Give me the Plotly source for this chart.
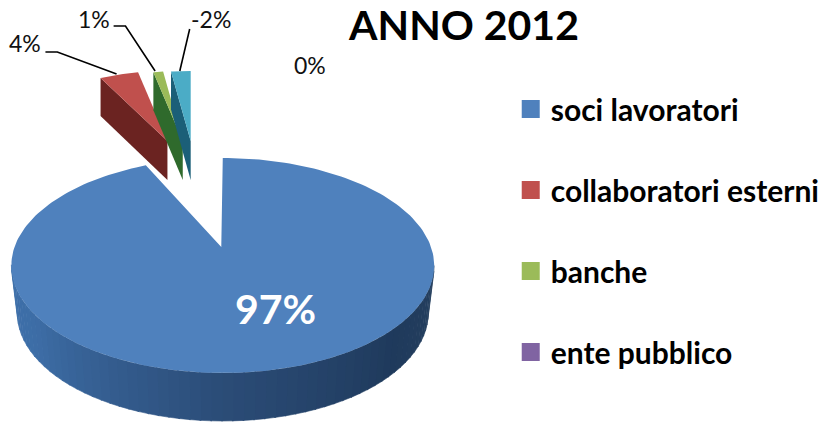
import numpy as np
import plotly.graph_objects as go

# ---- data ----
categories = ["soci lavoratori", "collaboratori esterni", "banche", "ente pubblico", "altro"]
values = [97, 4, 1, 0, -2]
title_text = "ANNO 2012"

# ---- styles ----
top_colors = ["#4F81BD", "#C0504D", "#9BBB59", "#8064A2", "#4BACC6"]
wall_colors = ["#2B4C77", "#6B2321", "#2F6A2C", "#4A3468", "#1B5F78"]
FONT = "Lato"

# ---- pseudo-3D projection, in pixels of the 825x423 page ----
CX, CY, RX, RY = 225.5, 265.5, 214.0, 107.5   # top ellipse
BRX, BRY, BCY = 208.0, 108.0, 313.0           # bottom ellipse
APEX = (224.0, 247.0)
PERSPECTIVE = 1.0086                          # angle stretch of the near slice
EX_RX, EX_RY, EX_CY, EX_APEX_Y, EX_DEPTH = 165.0, 80.0, 151.0, 141.0, 38.0
EX_CX = {1: 169.5, 2: 185.0, 4: 193.0}        # exploded slice centres

sizes = np.abs(np.array(values, dtype=float))
edges = np.concatenate([[0.0], np.cumsum(sizes) / sizes.sum() * 360.0])


def hex2rgb(h):
    return np.array([int(h[i:i + 2], 16) for i in (1, 3, 5)], dtype=float)


def shade(t):
    # t = 0 at the right end of the wall, t = 1 at its left end
    stops_t = [0.0, 0.2, 0.5, 0.85, 1.0]
    stops_c = ["#26405F", "#1F3A5C", "#2B4C77", "#3D6DA6", "#3E70AA"]
    c = [np.interp(t, stops_t, [hex2rgb(s)[k] for s in stops_c]) for k in range(3)]
    return "rgb(%d,%d,%d)" % tuple(int(round(v)) for v in c)


fig = go.Figure()


def poly(xs, ys, color, name="", width=0.0):
    fig.add_trace(go.Scatter(
        x=list(xs), y=list(ys), mode="lines", fill="toself", fillcolor=color,
        line=dict(color=color, width=width), showlegend=False,
        hoverinfo="text", text=name,
    ))


# blue wall, in shaded strips along the visible front
wall_edges = np.linspace(90.0, 270.0, 61)
for a0, a1 in zip(wall_edges[:-1], wall_edges[1:]):
    th = np.radians(np.linspace(a0, a1 + 0.4, 4))
    xt = CX + RX * np.sin(th)
    yt = CY - RY * np.cos(th)
    xb = CX + BRX * np.sin(th[::-1])
    yb = BCY - BRY * np.cos(th[::-1])
    poly(np.r_[xt, xb], np.r_[yt, yb], shade((a0 + a1 - 180.0) / 360.0), categories[0], 0.6)

# blue top face, from its value
th = np.radians(np.linspace(edges[0], edges[1] * PERSPECTIVE, 240))
poly(np.r_[APEX[0], CX + RX * np.sin(th), APEX[0]],
     np.r_[APEX[1], CY - RY * np.cos(th), APEX[1]],
     top_colors[0], categories[0])

# exploded slices, from their values
for i in (1, 2, 4):
    th = np.radians(np.linspace(edges[i], edges[i + 1], 24))
    cx = EX_CX[i]
    ax = cx + EX_RX * np.sin(th)
    ay = EX_CY - EX_RY * np.cos(th)
    poly([ax[0], ax[0], cx, cx, ax[0]],
         [ay[0], ay[0] + EX_DEPTH, EX_APEX_Y + EX_DEPTH + 1, EX_APEX_Y, ay[0]],
         wall_colors[i], categories[i])
    poly(np.r_[cx, ax, cx], np.r_[EX_APEX_Y, ay, EX_APEX_Y], top_colors[i], categories[i])

# leader lines
for lx, ly in [([118, 58, 46], [74, 52, 52]),
               ([157, 127, 115], [71, 26, 26]),
               ([182, 192], [71, 29])]:
    fig.add_trace(go.Scatter(x=lx, y=ly, mode="lines", showlegend=False, hoverinfo="skip",
                             line=dict(color="#000000", width=1.6)))

# legend entries
for name, color in zip(categories[:4], top_colors[:4]):
    fig.add_trace(go.Scatter(
        x=[None], y=[None], mode="markers", name=name, legendgroup=name,
        marker=dict(symbol="square", size=16, color=color, line=dict(color=color, width=2)),
    ))

# value labels
label_pos = [(279, 308), (25, 43), (95, 19), (314, 65), (214, 19)]
for i, (v, (lx, ly)) in enumerate(zip(values, label_pos)):
    big = i == 0
    fig.add_annotation(
        x=lx, y=ly, xref="x", yref="y", text=f"{v}%", showarrow=False,
        font=dict(family=FONT, size=41 if big else 23,
                  color="#FFFFFF" if big else "#111111",
                  weight="bold" if big else "normal"),
    )

fig.update_layout(
    width=825, height=423, autosize=False,
    margin=dict(l=0, r=0, t=0, b=0),
    paper_bgcolor="#FFFFFF", plot_bgcolor="#FFFFFF",
    title=dict(text=title_text, x=464 / 825, xanchor="center", y=1 - 26 / 423, yanchor="middle",
               yref="container",
               font=dict(family=FONT, size=41, color="#000000", weight="bold")),
    xaxis=dict(range=[0, 825], visible=False, fixedrange=True),
    yaxis=dict(range=[423, 0], visible=False, fixedrange=True),
    legend=dict(x=517 / 825, xanchor="left", y=1 - 83 / 423, yanchor="top",
                font=dict(family=FONT, size=30, color="#000000", weight="bold"),
                tracegroupgap=39, itemwidth=30, bgcolor="rgba(0,0,0,0)"),
)

fig.write_html("out.html", config={"displayModeBar": False},
               post_script="document.body.style.margin='0';document.documentElement.style.overflow='hidden';")
